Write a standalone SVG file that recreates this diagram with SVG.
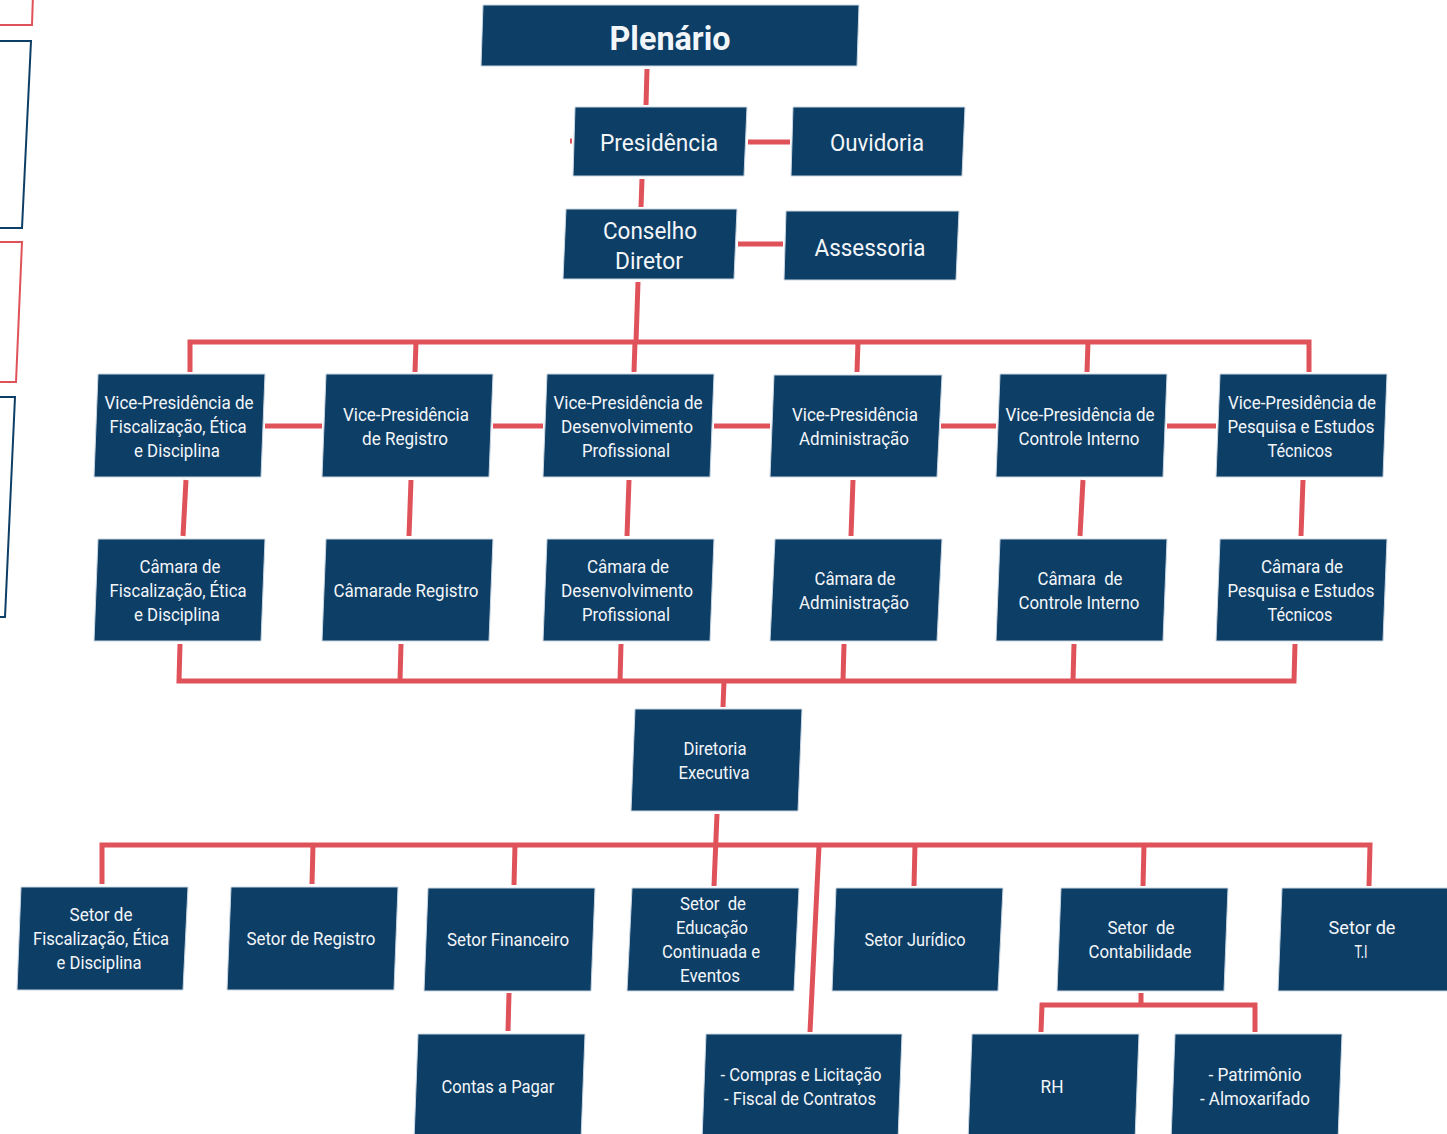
<svg xmlns="http://www.w3.org/2000/svg" width="1447" height="1134" viewBox="0 0 1447 1134">
<style>
.box{fill:#0d3e66;stroke:#c9d6e2;stroke-width:1}
.t{font-family:Roboto,"Liberation Sans",sans-serif;font-size:18px;fill:#f3f6f9;text-anchor:middle}
.big{font-size:24px}
.bold{font-size:34px;font-weight:bold}
.c{stroke:#e0525a;stroke-width:5;fill:none}
.ol{fill:none;stroke-width:2}
</style>
<rect width="1447" height="1134" fill="#ffffff"/>
<g id="left-outlines">
<polygon class="ol" stroke="#e0525a" points="-20,-5 33,-5 32,25 -20,25"/>
<polygon class="ol" stroke="#0d3e66" points="-20,41 31,41 22,228 -20,228"/>
<polygon class="ol" stroke="#e0525a" points="-20,242 22,242 16,382 -20,382"/>
<polygon class="ol" stroke="#0d3e66" points="-20,397 15,397 5,617 -20,617"/>
</g>
<g id="connectors">
<line class="c" x1="647" y1="69" x2="646" y2="105"/>
<line class="c" x1="748" y1="142" x2="790" y2="142"/>
<line class="c" x1="570" y1="141" x2="572" y2="141" stroke-width="4"/>
<line class="c" x1="642" y1="179" x2="641" y2="207"/>
<line class="c" x1="738" y1="244" x2="783" y2="244"/>
<line class="c" x1="638" y1="282" x2="636" y2="342"/>
<polyline class="c" points="190,372 190,342 1309,342 1309,372"/>
<line class="c" x1="416" y1="342" x2="415" y2="372"/>
<line class="c" x1="635" y1="342" x2="634" y2="372"/>
<line class="c" x1="858" y1="342" x2="857" y2="372"/>
<line class="c" x1="1088" y1="342" x2="1087" y2="372"/>
<line class="c" x1="265" y1="426" x2="322" y2="426"/>
<line class="c" x1="493" y1="426" x2="543" y2="426"/>
<line class="c" x1="714" y1="426" x2="770" y2="426"/>
<line class="c" x1="941" y1="426" x2="996" y2="426"/>
<line class="c" x1="1167" y1="426" x2="1216" y2="426"/>
<line class="c" x1="186" y1="480" x2="183" y2="536"/>
<line class="c" x1="411" y1="480" x2="409" y2="536"/>
<line class="c" x1="629" y1="480" x2="627" y2="536"/>
<line class="c" x1="853" y1="480" x2="851" y2="536"/>
<line class="c" x1="1083" y1="480" x2="1080" y2="536"/>
<line class="c" x1="1303" y1="480" x2="1301" y2="536"/>
<polyline class="c" points="180,644 179,681 1294,681 1295,644"/>
<line class="c" x1="401" y1="644" x2="400" y2="681"/>
<line class="c" x1="621" y1="644" x2="620" y2="681"/>
<line class="c" x1="844" y1="644" x2="843" y2="681"/>
<line class="c" x1="1074" y1="644" x2="1073" y2="681"/>
<line class="c" x1="724" y1="681" x2="723" y2="707"/>
<line class="c" x1="717" y1="814" x2="714" y2="886"/>
<polyline class="c" points="102,884 102,845 1370,845 1369,886"/>
<line class="c" x1="313" y1="845" x2="312" y2="884"/>
<line class="c" x1="515" y1="845" x2="514" y2="885"/>
<line class="c" x1="915" y1="845" x2="914" y2="886"/>
<line class="c" x1="1144" y1="845" x2="1143" y2="886"/>
<line class="c" x1="819" y1="846" x2="810" y2="1032"/>
<line class="c" x1="509" y1="993" x2="508" y2="1031"/>
<line class="c" x1="1141" y1="993" x2="1141" y2="1005"/>
<polyline class="c" points="1041,1032 1042,1005 1255,1005 1255,1032"/>
</g>
<g id="plenario"><polygon class="box" points="483,5 859,5 857,66 481,66"/><text class="t bold" x="670" y="50" textLength="121" lengthAdjust="spacingAndGlyphs">Plenário</text></g>
<g id="presidencia"><polygon class="box" points="575,107 747,107 744,176 573,176"/><text class="t big" x="659" y="151" textLength="118" lengthAdjust="spacingAndGlyphs">Presidência</text></g>
<g id="ouvidoria"><polygon class="box" points="793,107 965,107 962,176 791,176"/><text class="t big" x="877" y="151" textLength="94" lengthAdjust="spacingAndGlyphs">Ouvidoria</text></g>
<g id="conselho"><polygon class="box" points="566,209 737,209 734,279 563,279"/><text class="t big" x="650" y="239" textLength="94" lengthAdjust="spacingAndGlyphs">Conselho</text><text class="t big" x="649" y="269" textLength="68" lengthAdjust="spacingAndGlyphs">Diretor</text></g>
<g id="assessoria"><polygon class="box" points="786,211 959,211 956,280 784,280"/><text class="t big" x="870" y="256" textLength="111" lengthAdjust="spacingAndGlyphs">Assessoria</text></g>

<g id="vp1"><polygon class="box" points="98,374 265,374 261,477 94,477"/><text class="t" x="179" y="409" textLength="149" lengthAdjust="spacingAndGlyphs">Vice-Presidência de</text><text class="t" x="178" y="433" textLength="137" lengthAdjust="spacingAndGlyphs">Fiscalização, Ética</text><text class="t" x="177" y="457" textLength="86" lengthAdjust="spacingAndGlyphs">e Disciplina</text></g>
<g id="vp2"><polygon class="box" points="326,374 493,374 489,477 322,477"/><text class="t" x="406" y="421" textLength="126" lengthAdjust="spacingAndGlyphs">Vice-Presidência</text><text class="t" x="405" y="445" textLength="86" lengthAdjust="spacingAndGlyphs">de Registro</text></g>
<g id="vp3"><polygon class="box" points="547,374 714,374 710,477 543,477"/><text class="t" x="628" y="409" textLength="149" lengthAdjust="spacingAndGlyphs">Vice-Presidência de</text><text class="t" x="627" y="433" textLength="132" lengthAdjust="spacingAndGlyphs">Desenvolvimento</text><text class="t" x="626" y="457" textLength="88" lengthAdjust="spacingAndGlyphs">Profissional</text></g>
<g id="vp4"><polygon class="box" points="774,375 942,375 937,477 770,477"/><text class="t" x="855" y="421" textLength="126" lengthAdjust="spacingAndGlyphs">Vice-Presidência</text><text class="t" x="854" y="445" textLength="110" lengthAdjust="spacingAndGlyphs">Administração</text></g>
<g id="vp5"><polygon class="box" points="1000,374 1167,374 1163,477 996,477"/><text class="t" x="1080" y="421" textLength="149" lengthAdjust="spacingAndGlyphs">Vice-Presidência de</text><text class="t" x="1079" y="445" textLength="121" lengthAdjust="spacingAndGlyphs">Controle Interno</text></g>
<g id="vp6"><polygon class="box" points="1220,374 1387,374 1383,477 1216,477"/><text class="t" x="1302" y="409" textLength="148" lengthAdjust="spacingAndGlyphs">Vice-Presidência de</text><text class="t" x="1301" y="433" textLength="147" lengthAdjust="spacingAndGlyphs">Pesquisa e Estudos</text><text class="t" x="1300" y="457" textLength="65" lengthAdjust="spacingAndGlyphs">Técnicos</text></g>

<g id="c1"><polygon class="box" points="98,539 265,539 261,641 94,641"/><text class="t" x="180" y="573" textLength="81" lengthAdjust="spacingAndGlyphs">Câmara de</text><text class="t" x="178" y="597" textLength="137" lengthAdjust="spacingAndGlyphs">Fiscalização, Ética</text><text class="t" x="177" y="621" textLength="86" lengthAdjust="spacingAndGlyphs">e Disciplina</text></g>
<g id="c2"><polygon class="box" points="326,539 493,539 489,641 322,641"/><text class="t" x="406" y="597" textLength="145" lengthAdjust="spacingAndGlyphs">Câmarade Registro</text></g>
<g id="c3"><polygon class="box" points="547,539 714,539 710,641 543,641"/><text class="t" x="628" y="573" textLength="82" lengthAdjust="spacingAndGlyphs">Câmara de</text><text class="t" x="627" y="597" textLength="132" lengthAdjust="spacingAndGlyphs">Desenvolvimento</text><text class="t" x="626" y="621" textLength="88" lengthAdjust="spacingAndGlyphs">Profissional</text></g>
<g id="c4"><polygon class="box" points="775,539 942,539 937,641 770,641"/><text class="t" x="855" y="585" textLength="81" lengthAdjust="spacingAndGlyphs">Câmara de</text><text class="t" x="854" y="609" textLength="110" lengthAdjust="spacingAndGlyphs">Administração</text></g>
<g id="c5"><polygon class="box" points="1000,539 1167,539 1163,641 996,641"/><text class="t" x="1080" y="585" textLength="85" lengthAdjust="spacingAndGlyphs" xml:space="preserve">Câmara  de</text><text class="t" x="1079" y="609" textLength="121" lengthAdjust="spacingAndGlyphs">Controle Interno</text></g>
<g id="c6"><polygon class="box" points="1220,539 1387,539 1383,641 1216,641"/><text class="t" x="1302" y="573" textLength="82" lengthAdjust="spacingAndGlyphs">Câmara de</text><text class="t" x="1301" y="597" textLength="147" lengthAdjust="spacingAndGlyphs">Pesquisa e Estudos</text><text class="t" x="1300" y="621" textLength="65" lengthAdjust="spacingAndGlyphs">Técnicos</text></g>

<g id="diretoria"><polygon class="box" points="635,709 802,709 798,811 631,811"/><text class="t" x="715" y="755" textLength="63" lengthAdjust="spacingAndGlyphs">Diretoria</text><text class="t" x="714" y="779" textLength="71" lengthAdjust="spacingAndGlyphs">Executiva</text></g>

<g id="s1"><polygon class="box" points="21,887 188,887 183,990 17,990"/><text class="t" x="101" y="921" textLength="63" lengthAdjust="spacingAndGlyphs">Setor de</text><text class="t" x="101" y="945" textLength="136" lengthAdjust="spacingAndGlyphs">Fiscalização, Ética</text><text class="t" x="99" y="969" textLength="85" lengthAdjust="spacingAndGlyphs">e Disciplina</text></g>
<g id="s2"><polygon class="box" points="231,887 398,887 394,990 227,990"/><text class="t" x="311" y="945" textLength="129" lengthAdjust="spacingAndGlyphs">Setor de Registro</text></g>
<g id="s3"><polygon class="box" points="428,888 595,888 591,991 424,991"/><text class="t" x="508" y="946" textLength="122" lengthAdjust="spacingAndGlyphs">Setor Financeiro</text></g>
<g id="s4"><polygon class="box" points="632,888 799,888 794,991 627,991"/><text class="t" x="713" y="910" textLength="66" lengthAdjust="spacingAndGlyphs" xml:space="preserve">Setor  de</text><text class="t" x="712" y="934" textLength="72" lengthAdjust="spacingAndGlyphs">Educação</text><text class="t" x="711" y="958" textLength="98" lengthAdjust="spacingAndGlyphs">Continuada e</text><text class="t" x="710" y="982" textLength="60" lengthAdjust="spacingAndGlyphs">Eventos</text></g>
<g id="s5"><polygon class="box" points="836,888 1003,888 998,991 832,991"/><text class="t" x="915" y="946" textLength="101" lengthAdjust="spacingAndGlyphs">Setor Jurídico</text></g>
<g id="s6"><polygon class="box" points="1061,888 1228,888 1224,991 1057,991"/><text class="t" x="1141" y="934" textLength="67" lengthAdjust="spacingAndGlyphs" xml:space="preserve">Setor  de</text><text class="t" x="1140" y="958" textLength="103" lengthAdjust="spacingAndGlyphs">Contabilidade</text></g>
<g id="s7"><polygon class="box" points="1282,888 1452,888 1448,991 1278,991"/><text class="t" x="1362" y="934" textLength="67" lengthAdjust="spacingAndGlyphs">Setor de</text><text class="t" x="1361" y="958" textLength="13" lengthAdjust="spacingAndGlyphs">T.I</text></g>

<g id="contas"><polygon class="box" points="418,1034 585,1034 581,1140 414,1140"/><text class="t" x="498" y="1093" textLength="113" lengthAdjust="spacingAndGlyphs">Contas a Pagar</text></g>
<g id="compras"><polygon class="box" points="706,1034 902,1034 898,1140 702,1140"/><text class="t" x="801" y="1081" textLength="161" lengthAdjust="spacingAndGlyphs">- Compras e Licitação</text><text class="t" x="800" y="1105" textLength="152" lengthAdjust="spacingAndGlyphs">- Fiscal de Contratos</text></g>
<g id="rh"><polygon class="box" points="972,1034 1139,1034 1135,1140 968,1140"/><text class="t" x="1052" y="1093" textLength="23" lengthAdjust="spacingAndGlyphs">RH</text></g>
<g id="patrimonio"><polygon class="box" points="1175,1034 1342,1034 1338,1140 1171,1140"/><text class="t" x="1255" y="1081" textLength="93" lengthAdjust="spacingAndGlyphs">- Patrimônio</text><text class="t" x="1255" y="1105" textLength="110" lengthAdjust="spacingAndGlyphs">- Almoxarifado</text></g>
</svg>
